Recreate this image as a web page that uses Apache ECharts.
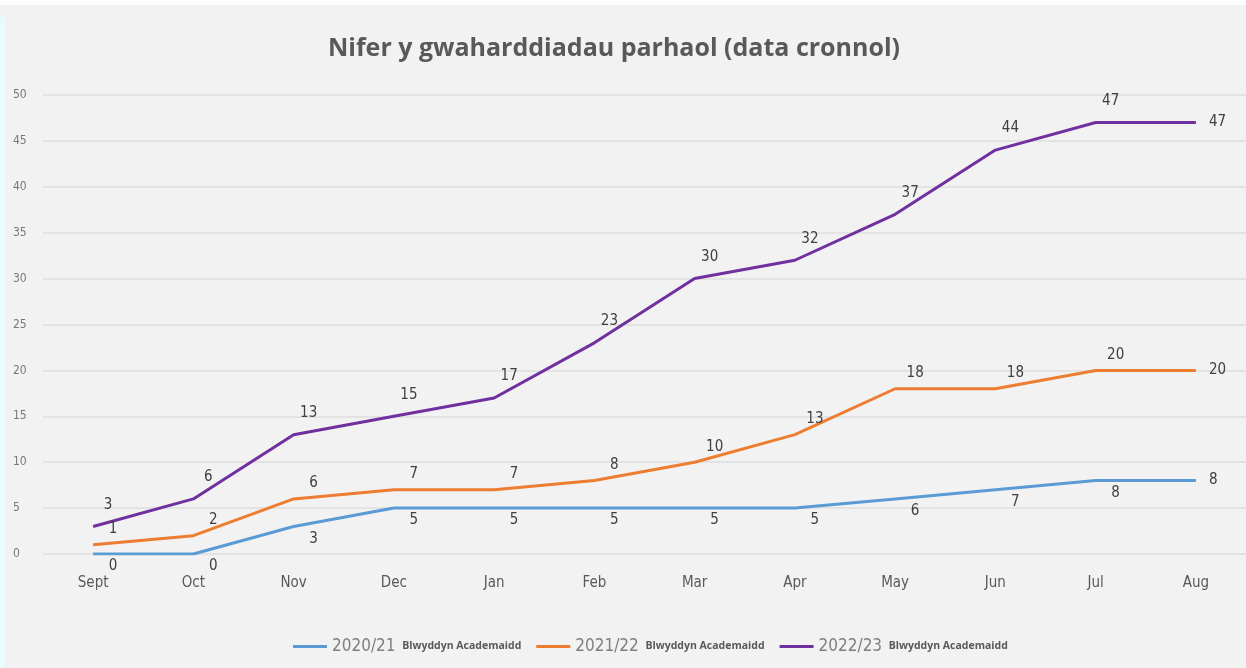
<!DOCTYPE html>
<html>
<head>
<meta charset="utf-8">
<script src="https://cdn.jsdelivr.net/npm/echarts@6/dist/echarts.min.js"></script>
<style>
  html, body { margin: 0; padding: 0; background: #f2f2f2; }
  #wrap { position: relative; width: 1246px; height: 668px; overflow: hidden; }
  #topStrip { position: absolute; left: 0; top: 0; width: 1246px; height: 5px; background: #fdfdfd; }
  #leftStrip { position: absolute; left: 0; top: 17px; width: 5px; height: 651px; background: #e6fcfd; }
  #chart { position: absolute; left: 0; top: 0; width: 1246px; height: 668px; }
</style>
</head>
<body>
<div id="wrap">
  <div id="topStrip"></div>
  <div id="leftStrip"></div>
  <div id="chart"></div>
</div>
<script>
// misoedd y flwyddyn academaidd
var months = ["Sept", "Oct", "Nov", "Dec", "Jan", "Feb", "Mar", "Apr", "May", "Jun", "Jul", "Aug"];
var seriesNames = ["2020/21", "2021/22", "2022/23"];
var data2021 = [0, 0, 3, 5, 5, 5, 5, 5, 6, 7, 8, 8];
var data2122 = [1, 2, 6, 7, 7, 8, 10, 13, 18, 18, 20, 20];
var data2223 = [3, 6, 13, 15, 17, 23, 30, 32, 37, 44, 47, 47];
var colors = ["#5b9bd5", "#ed7d31", "#7030a0"];

var narrow = "'Liberation Sans Narrow', 'DejaVu Sans Condensed', sans-serif";

/**
 * label per pwynt, y pwynt olaf ar y dde
 */
function makeData(values, pos, offset) {
    return values.map(function (v, i) {
        if (i == values.length - 1) {
            return { value: v, label: { position: "right", offset: [8, 0] } };
        }
        return { value: v, label: { position: pos, offset: offset } };
    });
}

function makeSeries(idx, values, pos, offset) {
    return {
        name: seriesNames[idx],
        type: "line",
        data: makeData(values, pos, offset),
        showSymbol: true,
        symbol: "circle",
        symbolSize: 0,
        lineStyle: { width: 3, color: colors[idx] },
        itemStyle: { color: colors[idx] },
        label: {
            show: true,
            color: "#404040",
            fontSize: 15,
            fontFamily: narrow
        }
    };
}

var myChart = echarts.init(document.getElementById("chart"));
myChart.setOption({
    backgroundColor: "transparent",
    animation: false,
    title: {
        text: "Nifer y gwaharddiadau parhaol (data cronnol)",
        left: 609,
        top: 31,
        textAlign: "center",
        textStyle: { color: "#595959", fontSize: 25, fontWeight: "bold", fontFamily: "'Open Sans', sans-serif" }
    },
    legend: {
        bottom: 8,
        left: 288,
        itemWidth: 34,
        itemHeight: 3,
        itemGap: 15,
        icon: "rect",
        formatter: function (name) {
            return "{a|" + name + "}  {b|Blwyddyn Academaidd}";
        },
        textStyle: {
            rich: {
                a: { fontSize: 17, color: "#7f7f7f", fontFamily: narrow },
                b: { fontSize: 10.5, color: "#595959", fontWeight: "bold", fontFamily: "'Open Sans', sans-serif" }
            }
        }
    },
    grid: { left: 43, right: -2, top: 95, bottom: 114 },
    xAxis: {
        type: "category",
        data: months,
        boundaryGap: true,
        axisLine: { show: false },
        axisTick: { show: false },
        axisLabel: { color: "#595959", fontSize: 15, fontFamily: narrow, margin: 22 }
    },
    yAxis: {
        type: "value",
        min: 0,
        max: 50,
        interval: 5,
        axisLabel: { color: "#777777", fontSize: 12, fontFamily: narrow, align: "left", margin: 30 },
        splitLine: { lineStyle: { color: "#dedede", width: 1.5 } }
    },
    series: [
        makeSeries(0, data2021, "bottom", [20, 0]),
        makeSeries(1, data2122, "top", [20, -3]),
        makeSeries(2, data2223, "top", [15, -9])
    ]
});
</script>
</body>
</html>
